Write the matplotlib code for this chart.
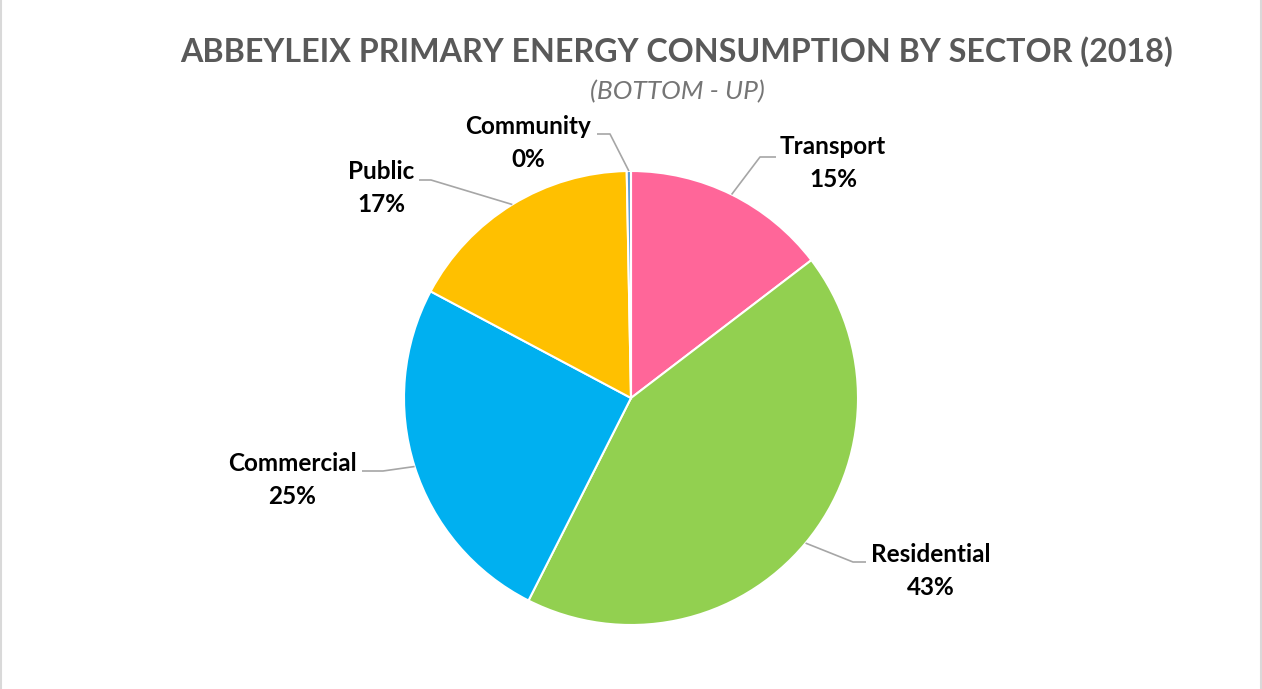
import numpy as np
import matplotlib
matplotlib.use("Agg")
import matplotlib.pyplot as plt
from matplotlib.patches import Rectangle

plt.rcParams['font.family'] = ['Lato', 'DejaVu Sans']

sectors = ["Transport", "Residential", "Commercial", "Public", "Community"]
shares = [14.6, 42.8, 25.3, 16.9, 0.3]
colors = ["#FF6699", "#92D050", "#00B0F0", "#FFC000", "#5B9BD5"]

title = "ABBEYLEIX PRIMARY ENERGY CONSUMPTION BY SECTOR (2018)"
subtitle = "(BOTTOM - UP)"

W, H = 1262, 689
fig = plt.figure(figsize=(W / 100, H / 100), dpi=100)
ax = fig.add_axes([0, 0, 1, 1])

cx, cy, r = 631, H - 398, 227
wedges, _ = ax.pie(shares, colors=colors, startangle=90, counterclock=False,
                   center=(cx, cy), radius=r, frame=True,
                   wedgeprops=dict(edgecolor="white", linewidth=1.5))
ax.set_xlim(0, W)
ax.set_ylim(0, H)
ax.set_aspect("equal")
ax.axis("off")

# label layout: text centre, elbow point, end of horizontal segment (pixel coords from top)
layout = {
    "Transport":   dict(text=(833, 163), knee=(760, 157), end=(776, 157)),
    "Residential": dict(text=(931, 571), knee=(853, 562), end=(866, 562)),
    "Commercial":  dict(text=(292, 480), knee=(383, 471), end=(362, 471)),
    "Public":      dict(text=(381, 188), knee=(431, 180), end=(419, 180)),
    "Community":   dict(text=(528, 143), knee=(610, 134), end=(597, 134)),
}

for w, name, val in zip(wedges, sectors, shares):
    mid = np.deg2rad((w.theta1 + w.theta2) / 2)
    px, py = cx + r * np.cos(mid), cy + r * np.sin(mid)
    L = layout[name]
    kx, ky = L["knee"][0], H - L["knee"][1]
    ex, ey = L["end"][0], H - L["end"][1]
    ax.plot([px, kx, ex], [py, ky, ey], color="#A6A6A6", lw=1.2,
            solid_capstyle="butt", zorder=1)
    tx, ty = L["text"][0], H - L["text"][1]
    ax.text(tx, ty, f"{name}\n{val:.0f}%", ha="center", va="center",
            fontsize=17.5, fontweight="bold", color="black", linespacing=1.48)

ax.text(677, H - 52, title, ha="center", va="center", fontsize=23.2,
        fontweight="bold", color="#595959")
ax.text(677, H - 92, subtitle, ha="center", va="center", fontsize=19,
        style="italic", color="#757575")

ax.add_patch(Rectangle((0.5, -5), 1260, H + 10, fill=False,
                       edgecolor="#D9D9D9", lw=1.5, clip_on=False))

fig.savefig("out.png", dpi=100)
